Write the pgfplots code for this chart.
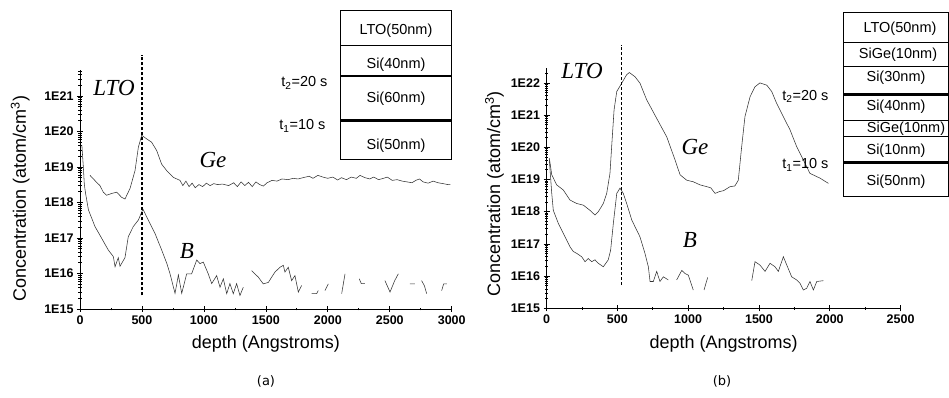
\documentclass[border=0pt]{standalone}
\usepackage{fontspec}
\setmainfont{Liberation Sans}
\newfontfamily\tms{Liberation Serif}
\newfontfamily\capfont{DejaVu Sans}
\usepackage{pgfplots}
\pgfplotsset{compat=1.18}
\begin{document}
\begin{tikzpicture}[x=1pt,y=1pt]
\path[use as bounding box] (0,0) rectangle (949,397);
% ---------------- (a) ----------------
\begin{axis}[scale only axis, ymode=log, log basis y=10,
  axis x line*=bottom, axis y line*=left,
  axis line style={line width=0.9pt},
  tick align=center, major tick length=6pt, minor tick length=3pt,
  tick style={line width=0.7pt, black},
  tick label style={font=\fontsize{12.5}{14}\selectfont\bfseries},
  label style={font=\fontsize{18}{20}\selectfont},
  ytick={1e15,1e16,1e17,1e18,1e19,1e20,1e21,1e22},
  yticklabels={1E15,1E16,1E17,1E18,1E19,1E20,1E21,1E22},
  minor ytick={2e15,3e15,4e15,5e15,6e15,7e15,8e15,9e15,
    2e16,3e16,4e16,5e16,6e16,7e16,8e16,9e16,
    2e17,3e17,4e17,5e17,6e17,7e17,8e17,9e17,
    2e18,3e18,4e18,5e18,6e18,7e18,8e18,9e18,
    2e19,3e19,4e19,5e19,6e19,7e19,8e19,9e19,
    2e20,3e20,4e20,5e20,6e20,7e20,8e20,9e20,
    2e21,3e21,4e21,5e21},
  xlabel={depth (Angstroms)},
  ylabel={Concentration (atom/cm\textsuperscript{3})},
  unbounded coords=jump, clip=false, minor x tick num=1,
  at={(80pt,88pt)}, anchor=south west,
  width=371.7pt, height=239pt,
  xmin=0, xmax=3000, ymin=1e15, ymax=5.4e21,
  xtick={0,500,1000,1500,2000,2500,3000},
  xticklabels={0,500,1000,1500,2000,2500,3000},
  xlabel style={at={(axis description cs:0.5,-0.144)},anchor=center},
  ylabel style={at={(axis description cs:-0.161,0.462)},anchor=center}]
% Ge
\addplot[line width=0.55pt, color=black!80, mark=none] coordinates {
(81,5.8e18)(134,3.7e18)(161,3.0e18)(188,1.95e18)(215,1.6e18)(256,1.8e18)(296,1.95e18)
(336,1.4e18)(363,1.25e18)(404,2.5e18)(444,7.9e18)(471,3.6e19)(498,7.8e19)(538,6.2e19)
(578,5.0e19)(619,2.9e19)(659,1.2e19)(700,7.9e18)(753,5.1e18)(807,4.2e18)
(830,3.0e18)(855,4.0e18)(880,2.8e18)(905,3.5e18)(930,2.6e18)(960,3.2e18)(990,2.8e18)
(1020,3.5e18)(1050,3.0e18)(1080,3.4e18)(1110,3.2e18)(1150,3.3e18)(1200,3.0e18)
(1240,3.6e18)(1270,2.8e18)(1300,3.8e18)(1330,3.0e18)(1360,3.7e18)(1390,2.8e18)
(1420,3.8e18)(1450,3.2e18)(1480,2.9e18)(1510,3.6e18)(1550,4.2e18)(1590,4.0e18)
(1630,4.6e18)(1680,4.4e18)(1720,4.8e18)(1760,4.6e18)(1800,5.0e18)(1850,5.5e18)
(1880,4.8e18)(1920,5.8e18)(1960,5.2e18)(2000,4.8e18)(2040,5.2e18)(2080,4.3e18)
(2110,5.0e18)(2150,4.4e18)(2190,5.2e18)(2230,4.8e18)(2260,5.8e18)(2300,5.0e18)
(2340,4.6e18)(2370,5.2e18)(2410,4.4e18)(2450,4.8e18)(2480,5.2e18)(2520,4.2e18)
(2560,4.4e18)(2600,4.0e18)(2640,3.8e18)(2680,3.6e18)(2710,4.2e18)(2740,4.6e18)
(2770,3.8e18)(2810,3.5e18)(2850,4.0e18)(2890,3.6e18)(2930,3.4e18)(2970,3.2e18)(2990,3.2e18)
};
% B
\addplot[line width=0.55pt, color=black!80, mark=none] coordinates {
(15,4.1e19)(27,1.0e19)(35,3.2e18)(45,1.8e18)(68,6.2e17)(121,2.1e17)(175,9.8e16)
(228,4.6e16)(269,3.0e16)(283,1.55e16)(309,2.8e16)(323,1.6e16)(363,2.8e16)(390,1.1e17)
(430,2.1e17)(471,3.2e17)(508,6.5e17)(551,3.2e17)(605,1.35e17)(659,4.6e16)(700,1.95e16)
(726,1.0e16)(767,2.75e15)(794,9.1e15)(821,2.75e15)(861,9.8e15)(901,9.8e15)(942,2.4e16)
(968,1.9e16)(995,2.1e16)(1035,9.8e15)(1063,5.2e15)(1103,8.7e15)(1130,4.1e15)(1157,7.1e15)
(1184,2.7e15)(1210,5.2e15)(1237,2.7e15)(1264,5.2e15)(1291,2.4e15)(1318,4.1e15)
(1350,nan)
(1385,1.2e16)(1439,7.9e15)(1479,5.1e15)(1520,5.6e15)(1547,7.9e15)(1574,1.1e16)(1614,1.5e16)
(1641,1.7e16)(1654,1.1e16)(1681,1.5e16)(1708,6.3e15)(1735,8.7e15)(1762,3.0e15)(1789,4.6e15)
(1830,nan)
(1870,2.7e15)(1910,2.7e15)(1923,3.3e15)
(1950,nan)
(1977,3.3e15)(2004,5.1e15)
(2050,nan)
(2112,2.7e15)(2139,9.8e15)
(2200,nan)
(2254,7.1e15)(2270,5.2e15)(2300,5.2e15)
(2400,nan)
(2461,6.3e15)(2502,3.0e15)(2540,6.3e15)(2569,9.8e15)
(2620,nan)
(2663,5.1e15)(2703,5.1e15)
(2730,nan)
(2757,6.3e15)(2780,4.5e15)(2798,2.7e15)
(2850,nan)
(2919,3.3e15)(2935,5.1e15)(2960,5.1e15)
};
\addplot[line width=1.3pt, black, dash pattern=on 3pt off 2pt, mark=none] coordinates {(500,2.4e15)(500,1.4e22)};
\end{axis}
% ---------------- (b) ----------------
\begin{axis}[scale only axis, ymode=log, log basis y=10,
  axis x line*=bottom, axis y line*=left,
  axis line style={line width=0.9pt},
  tick align=center, major tick length=6pt, minor tick length=3pt,
  tick style={line width=0.7pt, black},
  tick label style={font=\fontsize{12.5}{14}\selectfont\bfseries},
  label style={font=\fontsize{18}{20}\selectfont},
  ytick={1e15,1e16,1e17,1e18,1e19,1e20,1e21,1e22},
  yticklabels={1E15,1E16,1E17,1E18,1E19,1E20,1E21,1E22},
  minor ytick={2e15,3e15,4e15,5e15,6e15,7e15,8e15,9e15,
    2e16,3e16,4e16,5e16,6e16,7e16,8e16,9e16,
    2e17,3e17,4e17,5e17,6e17,7e17,8e17,9e17,
    2e18,3e18,4e18,5e18,6e18,7e18,8e18,9e18,
    2e19,3e19,4e19,5e19,6e19,7e19,8e19,9e19,
    2e20,3e20,4e20,5e20,6e20,7e20,8e20,9e20,
    2e21,3e21,4e21,5e21,6e21,7e21,8e21,9e21,2e22},
  xlabel={depth (Angstroms)},
  ylabel={Concentration (atom/cm\textsuperscript{3})},
  unbounded coords=jump, clip=false, minor x tick num=1,
  at={(546.5pt,88.7pt)}, anchor=south west,
  width=354.1pt, height=240.3pt,
  xmin=0, xmax=2500, ymin=1e15, ymax=2.9e22,
  xtick={0,500,1000,1500,2000,2500},
  xticklabels={0,500,1000,1500,2000,2500},
  xlabel style={at={(axis description cs:0.5,-0.146)},anchor=center},
  ylabel style={at={(axis description cs:-0.147,0.475)},anchor=center}]
% Ge
\addplot[line width=0.55pt, color=black!80, mark=none] coordinates {
(20,4.6e19)(37,1.4e19)(72,6.8e18)(119,4.7e18)(166,2.3e18)(213,1.8e18)(260,1.6e18)
(307,1.1e18)(342,7.9e17)(366,1.0e18)(401,1.8e18)(425,3.7e18)(448,1.55e19)(460,1.05e20)
(477,1.45e21)(496,5.4e21)(531,9.8e21)(566,1.8e22)(585,2.1e22)(625,1.55e22)(660,9.8e21)
(707,3.0e21)(778,7.9e20)(849,2.1e20)(907,4.1e19)(943,1.4e19)(990,9.5e18)(1036,8.5e18)
(1084,6.8e18)(1131,6.0e18)(1160,5.5e18)(1190,3.7e18)(1220,4.2e18)(1250,4.5e18)(1296,6.0e18)
(1330,6.3e18)(1354,9.5e18)(1378,1.05e20)(1401,8.9e20)(1437,3.7e21)(1472,7.6e21)
(1507,1.0e22)(1555,8.5e21)(1590,5.4e21)(1625,2.3e21)(1672,8.9e20)(1719,3.5e20)
(1766,1.05e20)(1813,4.1e19)(1860,1.55e19)(1931,1.1e19)(1990,7.6e18)
};
% B
\addplot[line width=0.55pt, color=black!80, mark=none] coordinates {
(20,4.0e19)(37,3.7e18)(48,1.1e18)(83,4.4e17)(119,2.1e17)(166,8.1e16)(189,5.8e16)
(213,5.1e16)(248,4.0e16)(272,2.8e16)(295,3.5e16)(319,2.8e16)(342,3.2e16)(366,2.5e16)
(401,1.95e16)(436,3.2e16)(453,6.5e16)(472,4.4e17)(496,3.7e18)(519,5.4e18)(542,3.7e18)
(566,1.8e18)(602,5.5e17)(660,1.65e17)(695,5.1e16)(719,1.95e16)(731,6.8e15)(754,6.8e15)
(778,1.4e16)(801,6.8e15)(825,9.5e15)(860,7.6e15)
(890,nan)
(919,7.6e15)(955,1.5e16)(978,1.2e16)(1001,1.07e16)(1036,3.7e15)
(1070,nan)
(1112,3.7e15)(1138,9.1e15)
(1300,nan)
(1449,7.2e15)(1472,2.8e16)(1507,2.2e16)(1543,1.4e16)(1578,2.5e16)(1613,1.95e16)
(1637,1.4e16)(1672,4.0e16)(1707,1.7e16)(1731,9.5e15)(1766,7.6e15)(1790,6.0e15)
(1813,3.7e15)(1837,4.2e15)(1860,6.8e15)(1884,3.7e15)(1908,6.8e15)(1954,7.2e15)
};
\addplot[line width=1.3pt, black, dash pattern=on 3pt off 2pt, mark=none] coordinates {(530,5.2e15)(530,1.5e23)};
\end{axis}
% ---------------- annotations ----------------
\begin{scope}[font=\tms\itshape\fontsize{23}{26}\selectfont]
\node at (114,309) {LTO};
\node at (213,237) {Ge};
\node at (187,146) {B};
\node at (582,326) {LTO};
\node at (695,250) {Ge};
\node at (690,157) {B};
\end{scope}
\begin{scope}[font=\fontsize{14.5}{16}\selectfont]
% left stack
\draw[line width=0.9pt] (340,238) rectangle (451.7,387);
\draw[line width=0.5pt] (340,351.3) -- (451.7,351.3);
\draw[line width=2.8pt] (340,321) -- (451.7,321);
\draw[line width=2.8pt] (340,276.3) -- (451.7,276.3);
\node at (396,366) {LTO(50nm)};
\node at (396,332) {Si(40nm)};
\node at (396,298) {Si(60nm)};
\node at (396,251) {Si(50nm)};
\node[anchor=east] at (331,314) {t\textsubscript{2}=20 s};
\node[anchor=east] at (329,271) {t\textsubscript{1}=10 s};
% right stack
\draw[line width=0.9pt] (843.3,201) rectangle (948.5,384.3);
\draw[line width=0.5pt] (843.3,354.7) -- (948.5,354.7);
\draw[line width=0.5pt] (843.3,330.3) -- (948.5,330.3);
\draw[line width=2.8pt] (843.3,302.7) -- (948.5,302.7);
\draw[line width=0.5pt] (843.3,276.3) -- (948.5,276.3);
\draw[line width=0.5pt] (843.3,261) -- (948.5,261);
\draw[line width=2.8pt] (843.3,234.3) -- (948.5,234.3);
\node at (900,368) {LTO(50nm)};
\node at (898,342) {SiGe(10nm)};
\node at (896,319.5) {Si(30nm)};
\node at (896,290) {Si(40nm)};
\node at (906,268.5) {SiGe(10nm)};
\node at (896,246.5) {Si(10nm)};
\node at (896,215.5) {Si(50nm)};
\node[anchor=east] at (832,300.5) {t\textsubscript{2}=20 s};
\node[anchor=east] at (832,232) {t\textsubscript{1}=10 s};
\end{scope}
\node[font=\capfont\fontsize{13}{15}\selectfont] at (266,16) {(a)};
\node[font=\capfont\fontsize{13}{15}\selectfont] at (722,16) {(b)};
\end{tikzpicture}
\end{document}
